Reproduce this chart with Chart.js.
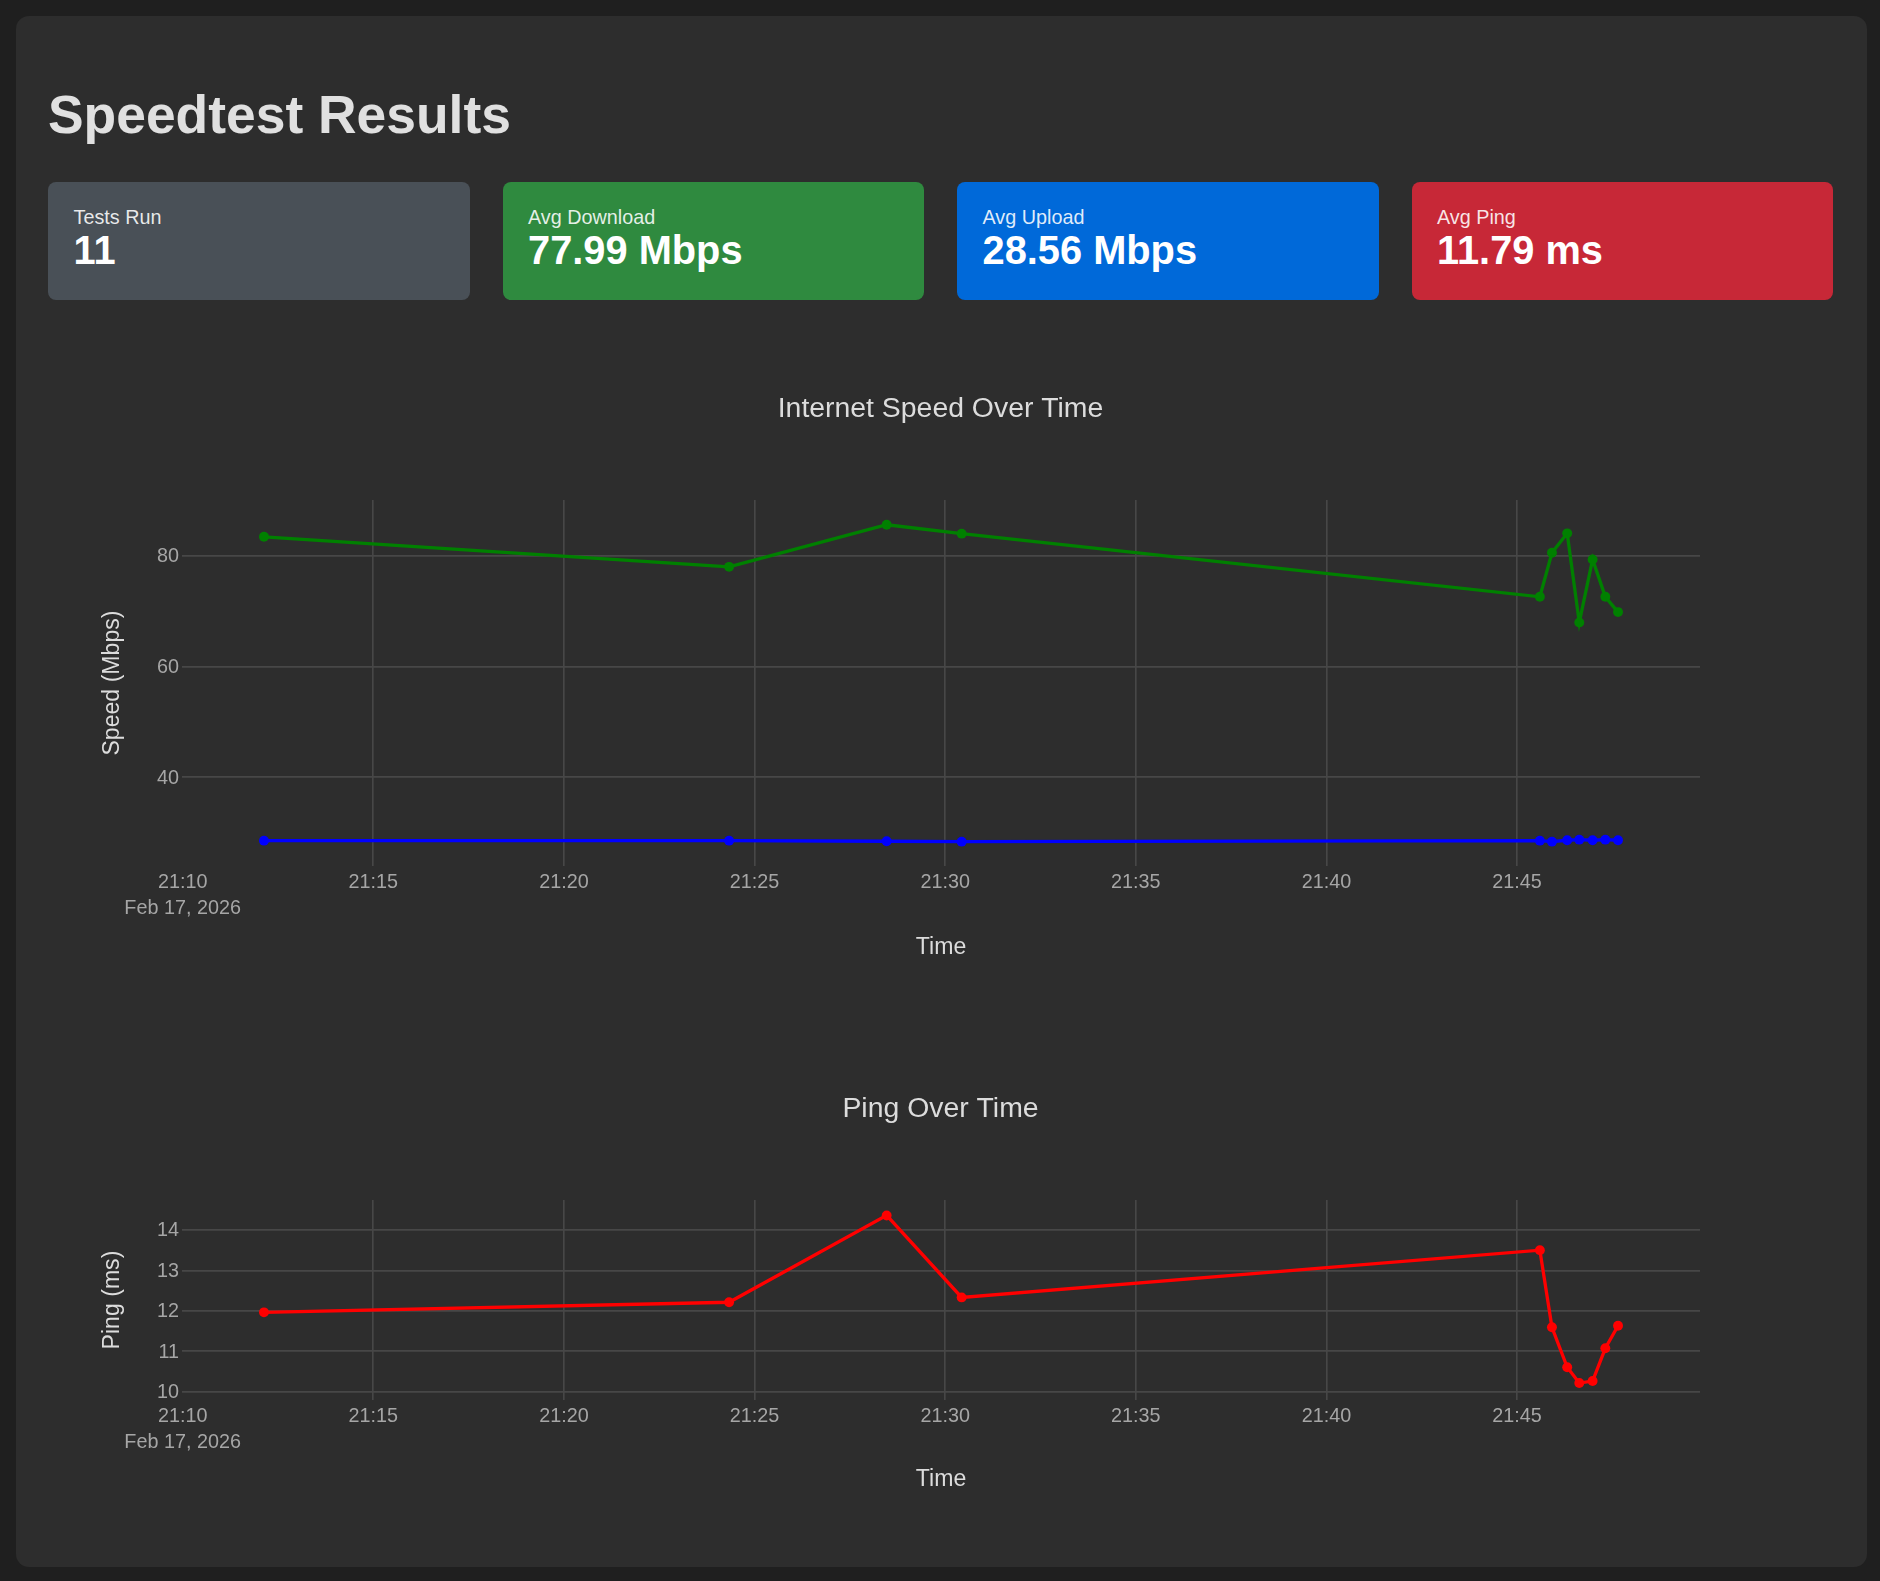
<!DOCTYPE html>
<html>
<head>
<meta charset="utf-8">
<title>Speedtest Results</title>
<script src="https://cdn.jsdelivr.net/npm/chart.js@4.4.1/dist/chart.umd.min.js"></script>
<style>
    html, body {
        margin: 0;
        padding: 0;
        background: #1f1f1f;
        font-family: "Liberation Sans", Arial, sans-serif;
    }
    .container {
        position: absolute;
        left: 16px;
        top: 16px;
        width: 1851px;
        height: 1551px;
        background: #2d2d2d;
        border-radius: 13px;
    }
    h1 {
        position: absolute;
        left: 48px;
        top: 84px;
        margin: 0;
        font-size: 53.4px;
        line-height: 1.15;
        font-weight: bold;
        color: #e0e0e0;
    }
    .stats {
        position: absolute;
        left: 48px;
        top: 182px;
        width: 1785px;
        display: flex;
        gap: 33px;
    }
    .stat {
        flex: 1;
        height: 118px;
        box-sizing: border-box;
        padding: 23.5px 25px 0 25.5px;
        border-radius: 8px;
        color: #fff;
        line-height: 1.15;
    }
    .stat .label { font-size: 19.8px; color: rgba(255, 255, 255, 0.88); }
    .stat .value { font-size: 39.8px; font-weight: bold; }
    .gray  { background: #495057; }
    .green { background: #2f8a3f; }
    .blue  { background: #0069d9; }
    .red   { background: #c72837; }
    canvas { position: absolute; left: 48px; }
    #speedChart { top: 360px; }
    #pingChart { top: 1060px; }
</style>
</head>
<body>
<div class="container"></div>
<h1>Speedtest Results</h1>
<div class="stats">
    <div class="stat gray"><div class="label">Tests Run</div><div class="value">11</div></div>
    <div class="stat green"><div class="label">Avg Download</div><div class="value">77.99 Mbps</div></div>
    <div class="stat blue"><div class="label">Avg Upload</div><div class="value">28.56 Mbps</div></div>
    <div class="stat red"><div class="label">Avg Ping</div><div class="value">11.79 ms</div></div>
</div>
<canvas id="speedChart" width="1785" height="606"></canvas>
<canvas id="pingChart" width="1785" height="440"></canvas>

<script>
// Dữ liệu đo
const testTimes = ['21:12:08', '21:24:20', '21:28:28', '21:30:26', '21:45:36', '21:45:55',
                   '21:46:19', '21:46:38', '21:46:59', '21:47:19', '21:47:39'];
const downloadMbps = [83.43, 78.0, 85.6, 84.0, 72.59, 80.54, 84.05, 67.97, 79.35, 72.59, 69.83];
const uploadMbps = [28.55, 28.55, 28.44, 28.37, 28.55, 28.37, 28.62, 28.73, 28.62, 28.73, 28.62];
const pingMs = [11.96, 12.21, 14.36, 12.33, 13.5, 11.59, 10.6, 10.21, 10.26, 11.07, 11.63];

// Nhãn trục
const timeTicks = ['21:10', '21:15', '21:20', '21:25', '21:30', '21:35', '21:40', '21:45'];
const dateLabel = 'Feb 17, 2026';
const speedTicks = [40, 60, 80];
const pingTicks = [10, 11, 12, 13, 14];

// Khoảng hiển thị của các trục
const timeRange = ['21:09:59', '21:49:48'];
const speedRange = [23.97, 90.06];
const pingRange = [9.79, 14.74];

const FONT = '"Liberation Sans", Arial, sans-serif';
const GRID = '#474747';

// "HH:MM:SS" -> số phút tính từ 21:00
function toMinutes(t) {
    const [h, m, s] = t.split(':').map(Number);
    return (h - 21) * 60 + m + (s || 0) / 60;
}

function formatTick(value) {
    const h = 21 + Math.floor(value / 60);
    const m = Math.round(value % 60);
    const label = h + ':' + String(m).padStart(2, '0');
    return label === timeTicks[0] ? [label, dateLabel] : label;
}

function makeSeries(values, color) {
    return {
        data: values.map((v, i) => ({ x: toMinutes(testTimes[i]), y: v })),
        borderColor: color,
        backgroundColor: color,
        pointBackgroundColor: color,
        pointBorderWidth: 0,
        pointRadius: 4.95,
        borderWidth: 3.3,
        tension: 0,
    };
}

function buildOptions(cfg) {
    return {
        responsive: false,
        animation: false,
        devicePixelRatio: 1,
        layout: { padding: 0 },
        plugins: {
            legend: { display: false },
            tooltip: { enabled: false },
            title: {
                display: true,
                text: cfg.title,
                color: '#dcdcdc',
                font: { family: FONT, size: 28.4, weight: 'normal' },
                padding: { top: 32, bottom: 74 },
            },
        },
        scales: {
            x: {
                type: 'linear',
                min: toMinutes(timeRange[0]),
                max: toMinutes(timeRange[1]),
                afterBuildTicks: s => { s.ticks = timeTicks.map(t => ({ value: toMinutes(t) })); },
                afterFit: s => { s.height = 100; },
                border: { display: false },
                grid: {
                    color: ctx => (ctx.index === 0 ? 'rgba(0,0,0,0)' : GRID),
                    lineWidth: 1.65,
                    drawTicks: false,
                },
                ticks: {
                    autoSkip: false,
                    maxRotation: 0,
                    padding: 3.2,
                    color: '#a6a6a6',
                    font: { family: FONT, size: 19.8, lineHeight: 1.33 },
                    callback: v => formatTick(v),
                },
                title: {
                    display: true,
                    text: 'Time',
                    color: '#dcdcdc',
                    font: { family: FONT, size: 23.1 },
                    padding: { top: 0, bottom: cfg.xTitlePad },
                },
            },
            y: {
                min: cfg.range[0],
                max: cfg.range[1],
                afterBuildTicks: s => { s.ticks = cfg.ticks.map(v => ({ value: v })); },
                afterFit: s => { s.width = 134; },
                border: { display: false },
                grid: { color: GRID, lineWidth: 1.65, drawTicks: false },
                ticks: {
                    padding: 3,
                    labelOffset: 1,
                    color: '#a6a6a6',
                    font: { family: FONT, size: 19.8 },
                },
                title: {
                    display: true,
                    text: cfg.yTitle,
                    color: '#dcdcdc',
                    font: { family: FONT, size: 23.1 },
                    padding: { top: 50.6, bottom: 0 },
                },
            },
            // khoảng trống bên phải để tiêu đề nằm giữa khung
            spacer: {
                axis: 'y',
                position: 'right',
                afterFit: s => { s.width = 133; },
                border: { display: false },
                grid: { display: false },
                ticks: { display: false },
            },
        },
    };
}

function initializeCharts() {
    new Chart(document.getElementById('speedChart'), {
        type: 'line',
        data: {
            datasets: [
                makeSeries(downloadMbps, '#008000'),
                makeSeries(uploadMbps, '#0000ff'),
            ],
        },
        options: buildOptions({
            title: 'Internet Speed Over Time',
            yTitle: 'Speed (Mbps)',
            range: speedRange,
            ticks: speedTicks,
            xTitlePad: 4.7,
        }),
    });

    new Chart(document.getElementById('pingChart'), {
        type: 'line',
        data: { datasets: [makeSeries(pingMs, '#ff0000')] },
        options: buildOptions({
            title: 'Ping Over Time',
            yTitle: 'Ping (ms)',
            range: pingRange,
            ticks: pingTicks,
            xTitlePad: 6.9,
        }),
    });
}

document.addEventListener('DOMContentLoaded', initializeCharts);
</script>
</body>
</html>
